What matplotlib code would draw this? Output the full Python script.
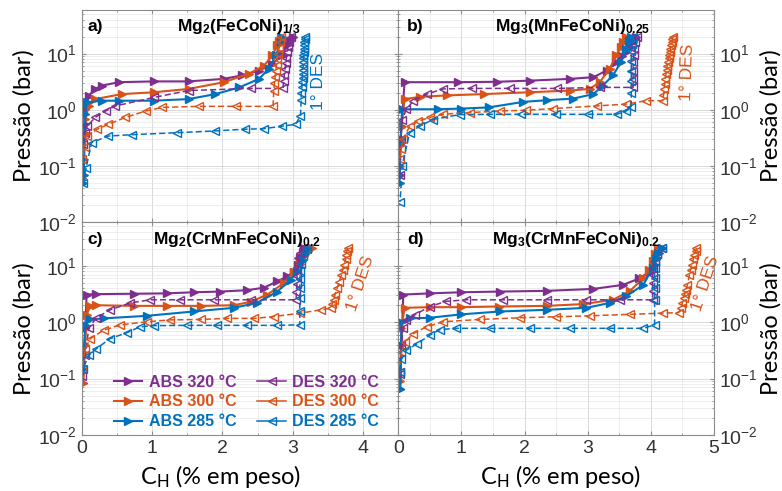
import matplotlib
matplotlib.use("Agg")
import matplotlib.pyplot as plt
from matplotlib.ticker import MultipleLocator, LogLocator, NullFormatter
from matplotlib.lines import Line2D

plt.rcParams['font.family'] = ['Liberation Sans', 'DejaVu Sans']
plt.rcParams['mathtext.fontset'] = 'custom'
plt.rcParams['mathtext.rm'] = 'Liberation Sans'
plt.rcParams['mathtext.bf'] = 'Liberation Sans:bold'
plt.rcParams['mathtext.it'] = 'Liberation Sans:italic'

PURPLE = '#7E2F8E'
ORANGE = '#D95319'
BLUE = '#0072BD'
colors = [PURPLE, ORANGE, BLUE]
temps = ['320', '300', '285']

# ---- panel a: Mg2(FeCoNi)1/3 ----
a_abs320_x = [0.01, 0.02, 0.04, 0.05, 0.10, 0.19, 0.29, 0.53, 1.03, 1.52, 2.02, 2.28, 2.52, 2.71, 2.85, 2.92, 2.96, 3.0]
a_abs320_p = [0.07, 0.29, 0.55, 1.02, 1.78, 2.35, 2.7, 3.1, 3.2, 3.2, 3.55, 4.1, 5.0, 6.6, 9.3, 14, 17, 20]
a_abs300_x = [0.01, 0.02, 0.04, 0.05, 0.10, 0.19, 0.57, 1.03, 1.52, 2.02, 2.38, 2.59, 2.71, 2.78, 2.81, 2.83]
a_abs300_p = [0.06, 0.13, 0.39, 0.68, 1.17, 1.55, 1.9, 2.05, 2.35, 3.1, 4.4, 6.1, 9.3, 14, 17, 20]
a_abs285_x = [0.02, 0.03, 0.05, 0.07, 0.29, 0.53, 1.03, 1.52, 1.90, 2.24, 2.52, 2.66, 2.76, 2.83, 2.85]
a_abs285_p = [0.05, 0.07, 0.83, 1.35, 1.45, 1.45, 1.45, 1.55, 1.9, 2.5, 3.55, 5.4, 9.3, 16, 20]
a_des320_x = [2.97, 2.94, 2.93, 2.92, 2.91, 2.90, 2.89, 2.88, 2.87, 2.86, 2.40, 1.52, 1.03, 0.48, 0.34, 0.19, 0.08, 0.04, 0.02]
a_des320_p = [20, 16, 13, 10.5, 8.5, 6.8, 5.4, 4.2, 3.2, 2.4, 2.4, 2.2, 1.66, 1.17, 0.95, 0.73, 0.51, 0.39, 0.25]
a_des300_x = [2.84, 2.82, 2.80, 2.79, 2.78, 2.77, 2.76, 2.75, 2.74, 2.73, 2.72, 2.19, 1.67, 1.14, 0.91, 0.62, 0.38, 0.22, 0.08, 0.04, 0.01]
a_des300_p = [20, 16, 12.5, 10, 8, 6.3, 5, 3.9, 3.0, 2.2, 1.15, 1.15, 1.15, 1.1, 0.95, 0.73, 0.55, 0.45, 0.34, 0.22, 0.13]
a_des285_x = [3.17, 3.17, 3.16, 3.16, 3.16, 3.16, 3.15, 3.15, 3.15, 3.15, 3.14, 3.14, 3.14, 3.13, 3.13, 3.12, 3.12,
              3.11, 3.04, 2.85, 2.59, 2.32, 1.90, 1.36, 0.72, 0.38, 0.14, 0.06, 0.02]
a_des285_p = [20, 18, 16, 14, 12.3, 10.8, 9.4, 8.2, 7.1, 6.1, 5.2, 4.4, 3.7, 3.1, 2.5, 2.0, 1.5,
              0.78, 0.55, 0.51, 0.46, 0.45, 0.42, 0.39, 0.36, 0.34, 0.26, 0.09, 0.05]

# ---- panel b: Mg3(MnFeCoNi)0.25 ----
b_abs320_x = [0.02, 0.03, 0.05, 0.10, 0.95, 1.56, 2.08, 2.72, 3.09, 3.30, 3.45, 3.55, 3.61, 3.67, 3.72, 3.77]
b_abs320_p = [0.07, 0.25, 0.51, 3.1, 3.1, 3.15, 3.3, 3.55, 3.8, 5.0, 7.1, 9, 10.7, 13, 16, 20]
b_abs300_x = [0.02, 0.05, 0.10, 0.35, 0.77, 1.35, 2.08, 2.72, 3.03, 3.19, 3.35, 3.45, 3.52, 3.56, 3.61]
b_abs300_p = [0.1, 0.5, 1.55, 1.7, 1.8, 1.9, 2.05, 2.2, 2.35, 3.1, 5.4, 9.3, 13, 16, 20]
b_abs285_x = [0.02, 0.04, 0.06, 0.63, 1.0, 1.43, 1.98, 2.35, 2.77, 3.09, 3.24, 3.40, 3.53, 3.61, 3.66, 3.69]
b_abs285_p = [0.05, 0.3, 1.02, 1.02, 1.05, 1.1, 1.38, 1.48, 1.58, 1.9, 2.7, 4.1, 7.1, 12, 17, 20]
b_des320_x = [3.78, 3.75, 3.74, 3.73, 3.72, 3.72, 3.72, 3.72, 3.20, 2.51, 1.77, 1.16, 0.71, 0.45, 0.24, 0.13, 0.06, 0.04, 0.02]
b_des320_p = [20, 16, 12, 9.5, 7, 5, 3.5, 2.5, 2.5, 2.4, 2.4, 2.4, 2.35, 1.9, 1.45, 1.02, 0.67, 0.3, 0.07]
b_des300_x = [4.35, 4.34, 4.33, 4.32, 4.31, 4.30, 4.29, 4.28, 4.27, 4.26, 4.25, 4.24, 4.23, 4.22, 4.21, 4.20, 4.19,
              3.93, 3.61, 3.14, 2.45, 2.03, 1.61, 1.13, 0.71, 0.50, 0.32, 0.18, 0.08, 0.04, 0.02]
b_des300_p = [20, 18, 16, 14, 12.3, 10.8, 9.4, 8.2, 7.1, 6.1, 5.2, 4.4, 3.6, 2.9, 2.3, 1.8, 1.45,
              1.45, 1.26, 1.17, 1.05, 0.98, 0.95, 0.89, 0.83, 0.73, 0.63, 0.51, 0.3, 0.2, 0.13]
b_des285_x = [3.72, 3.70, 3.69, 3.69, 3.69, 3.69, 3.69, 3.69, 3.61, 3.46, 3.00, 2.50, 1.95, 1.45, 0.97, 0.55, 0.34, 0.18, 0.06, 0.03]
b_des285_p = [20, 15, 11, 7.5, 5, 3.2, 2, 1.1, 0.95, 0.83, 0.83, 0.83, 0.83, 0.83, 0.82, 0.67, 0.51, 0.39, 0.1, 0.023]

# ---- panel c: Mg2(CrMnFeCoNi)0.2 ----
c_abs320_x = [0.02, 0.05, 0.07, 0.2, 0.74, 1.21, 1.59, 1.97, 2.35, 2.59, 2.78, 2.92, 3.02, 3.07, 3.11, 3.14, 3.16]
c_abs320_p = [0.085, 0.78, 3.1, 3.15, 3.2, 3.25, 3.4, 3.5, 3.7, 4.1, 5.3, 6.5, 7.9, 10.5, 14, 17, 21]
c_abs300_x = [0.02, 0.05, 0.07, 0.12, 0.21, 0.74, 1.21, 1.69, 2.16, 2.40, 2.64, 2.87, 3.02, 3.10, 3.16, 3.22, 3.28]
c_abs300_p = [0.085, 0.39, 1.35, 1.95, 2.0, 1.95, 1.95, 1.95, 2.0, 2.3, 3.1, 4.9, 7.9, 11, 15, 18, 21]
c_abs285_x = [0.02, 0.05, 0.12, 0.31, 0.93, 1.59, 2.16, 2.49, 2.78, 2.97, 3.06, 3.13, 3.17, 3.20]
c_abs285_p = [0.15, 0.9, 1.12, 1.17, 1.3, 1.55, 1.8, 2.2, 3.5, 5.6, 8, 12, 16, 20]
c_des320_x = [3.14, 3.10, 3.08, 3.07, 3.06, 3.06, 3.06, 3.05, 3.05, 2.4, 1.88, 1.4, 0.97, 0.69, 0.40, 0.21, 0.10, 0.05, 0.01]
c_des320_p = [21, 17, 14, 11, 8.5, 6.5, 4.8, 3.5, 2.5, 2.5, 2.5, 2.5, 2.5, 2.2, 1.65, 1.2, 0.78, 0.26, 0.11]
c_des300_x = [3.78, 3.77, 3.76, 3.75, 3.73, 3.71, 3.69, 3.66, 3.63, 3.60, 3.58, 3.56, 3.54,
              3.40, 3.11, 2.73, 2.45, 2.07, 1.69, 1.26, 0.93, 0.55, 0.31, 0.12, 0.05, 0.01]
c_des300_p = [21, 18, 15.5, 13, 10.5, 8.5, 6.8, 5.2, 4.0, 3.1, 2.5, 2.1, 1.78,
              1.66, 1.45, 1.26, 1.17, 1.17, 1.12, 1.1, 1.02, 0.9, 0.72, 0.51, 0.34, 0.15]
c_des285_x = [3.20, 3.15, 3.12, 3.11, 3.10, 3.10, 3.10, 3.10, 3.10, 2.78, 2.35, 1.93, 1.50, 1.03, 0.83, 0.64, 0.40, 0.21, 0.10, 0.02]
c_des285_p = [20, 15, 11, 8, 5.8, 4.0, 2.7, 1.6, 0.9, 0.88, 0.88, 0.88, 0.88, 0.87, 0.83, 0.65, 0.51, 0.34, 0.26, 0.15]

# ---- panel d: Mg3(CrMnFeCoNi)0.2 ----
d_abs320_x = [0.03, 0.05, 0.08, 0.5, 1.0, 1.61, 2.35, 3.09, 3.56, 3.82, 3.98, 4.05, 4.09, 4.13, 4.17]
d_abs320_p = [0.065, 0.39, 3.1, 3.25, 3.4, 3.5, 3.6, 3.9, 4.6, 6.0, 7.9, 10.5, 14, 17, 21]
d_abs300_x = [0.03, 0.05, 0.10, 0.5, 1.0, 1.6, 2.35, 2.93, 3.40, 3.67, 3.88, 3.97, 4.03, 4.07, 4.11]
d_abs300_p = [0.09, 0.78, 1.8, 1.85, 1.85, 1.9, 1.95, 2.1, 2.5, 3.6, 6.0, 8.5, 12, 16, 21]
d_abs285_x = [0.03, 0.05, 0.18, 0.5, 1.0, 1.61, 2.35, 2.98, 3.35, 3.61, 3.88, 4.03, 4.08, 4.11, 4.17]
d_abs285_p = [0.065, 1.02, 1.17, 1.2, 1.38, 1.55, 1.66, 1.8, 2.2, 2.9, 4.6, 9.2, 13, 17, 21]
d_des320_x = [4.17, 4.10, 4.06, 4.04, 4.03, 4.03, 4.03, 4.03, 3.51, 2.98, 2.35, 1.66, 1.08, 0.76, 0.50, 0.26, 0.13, 0.08, 0.05, 0.03]
d_des320_p = [21, 16, 12, 9, 6.8, 5, 3.6, 2.5, 2.5, 2.5, 2.5, 2.5, 2.5, 2.35, 1.9, 1.35, 1.1, 0.78, 0.39, 0.12]
d_des300_x = [4.72, 4.71, 4.69, 4.67, 4.65, 4.63, 4.61, 4.58, 4.56, 4.54, 4.52, 4.50, 4.48,
              4.44, 4.19, 3.67, 3.03, 2.50, 1.93, 1.29, 0.71, 0.45, 0.24, 0.11, 0.05, 0.03]
d_des300_p = [21, 18, 15.5, 13, 10.5, 8.5, 6.8, 4.6, 3.8, 3.2, 2.7, 2.2, 1.78,
              1.48, 1.45, 1.38, 1.3, 1.25, 1.2, 1.12, 1.02, 0.83, 0.63, 0.45, 0.3, 0.13]
d_des285_x = [4.17, 4.10, 4.07, 4.06, 4.06, 4.06, 4.06, 4.06, 3.88, 3.35, 2.72, 2.09, 1.45, 0.92, 0.66, 0.50, 0.29, 0.13, 0.05, 0.02]
d_des285_p = [21, 16, 12, 9, 6, 4, 2.5, 0.9, 0.78, 0.78, 0.78, 0.78, 0.78, 0.78, 0.74, 0.59, 0.41, 0.32, 0.22, 0.13]

panels = [
    dict(letter='a)', title=r'$\mathbf{Mg_2(FeCoNi)_{1/3}}$', title_x=0.495, xmax=4.5,
         pos=[0.1045, 0.5479, 0.4048, 0.4318], side='left', bottom=False,
         abs=[(a_abs320_x, a_abs320_p), (a_abs300_x, a_abs300_p), (a_abs285_x, a_abs285_p)],
         des=[(a_des320_x, a_des320_p), (a_des300_x, a_des300_p), (a_des285_x, a_des285_p)],
         first=(3.37, 3.2, 90, BLUE)),
    dict(letter='b)', title=r'$\mathbf{Mg_3(MnFeCoNi)_{0.25}}$', title_x=0.553, xmax=5,
         pos=[0.5093, 0.5479, 0.4037, 0.4318], side='right', bottom=False,
         abs=[(b_abs320_x, b_abs320_p), (b_abs300_x, b_abs300_p), (b_abs285_x, b_abs285_p)],
         des=[(b_des320_x, b_des320_p), (b_des300_x, b_des300_p), (b_des285_x, b_des285_p)],
         first=(4.58, 4.6, 88, ORANGE)),
    dict(letter='c)', title=r'$\mathbf{Mg_2(CrMnFeCoNi)_{0.2}}$', title_x=0.49, xmax=4.5,
         pos=[0.1045, 0.1141, 0.4048, 0.4338], side='left', bottom=True,
         abs=[(c_abs320_x, c_abs320_p), (c_abs300_x, c_abs300_p), (c_abs285_x, c_abs285_p)],
         des=[(c_des320_x, c_des320_p), (c_des300_x, c_des300_p), (c_des285_x, c_des285_p)],
         first=(3.96, 4.9, 72, ORANGE)),
    dict(letter='d)', title=r'$\mathbf{Mg_3(CrMnFeCoNi)_{0.2}}$', title_x=0.563, xmax=5,
         pos=[0.5093, 0.1141, 0.4037, 0.4338], side='right', bottom=True,
         abs=[(d_abs320_x, d_abs320_p), (d_abs300_x, d_abs300_p), (d_abs285_x, d_abs285_p)],
         des=[(d_des320_x, d_des320_p), (d_des300_x, d_des300_p), (d_des285_x, d_des285_p)],
         first=(4.86, 4.8, 72, ORANGE)),
]

fig = plt.figure(figsize=(7.82, 4.91), dpi=100)
label_font = dict(family=['Lato', 'DejaVu Sans'], size=17, color='black')

for pnl in panels:
    ax = fig.add_axes(pnl['pos'])
    ax.set_yscale('log')
    ax.set_xlim(0, pnl['xmax'])
    ax.set_ylim(0.01, 60)

    for (x, p), c, t in zip(pnl['abs'], colors, temps):
        ax.plot(x, p, '-', color=c, lw=1.5, marker='>', ms=5.5, mfc=c, mec=c)
    for (x, p), c, t in zip(pnl['des'], colors, temps):
        ax.plot(x, p, '--', color=c, lw=1.1, dashes=(4, 2), marker='<', ms=5.5,
                mfc='none', mec=c, mew=1.0)

    fx, fy, rot, fc = pnl['first']
    ax.text(fx, fy, '1° DES', color=fc, fontsize=12.5, rotation=rot, ha='center', va='center')

    ax.text(0.017 if pnl['side'] == 'left' else 0.028, 0.92, pnl['letter'],
            transform=ax.transAxes, fontsize=12.5, fontweight='bold', va='center')
    ax.text(pnl['title_x'], 0.92, pnl['title'], transform=ax.transAxes,
            fontsize=12.5, ha='center', va='center')

    ax.xaxis.set_major_locator(MultipleLocator(1))
    ax.xaxis.set_minor_locator(MultipleLocator(0.5))
    ax.yaxis.set_major_locator(LogLocator(base=10, numticks=10))
    ax.yaxis.set_minor_locator(LogLocator(base=10, subs=range(2, 10), numticks=20))
    ax.yaxis.set_minor_formatter(NullFormatter())
    ax.grid(True, which='major', color='#d4d4d4', lw=0.6)
    ax.grid(True, which='minor', color='#e8e8e8', lw=0.5)
    ax.set_axisbelow(True)

    for s in ax.spines.values():
        s.set_color('#8c8c8c')
        s.set_linewidth(0.8)
    ax.tick_params(which='both', direction='in', colors='#8c8c8c', labelcolor='#333333',
                   labelsize=14, top=True, right=True, left=True, bottom=True)
    ax.tick_params(which='major', length=3)
    ax.tick_params(which='minor', length=1.5)

    if pnl['side'] == 'left':
        ax.tick_params(labelleft=True, labelright=False)
        ax.set_ylabel('Pressão (bar)', **label_font)
        ax.yaxis.set_label_coords(-0.148, 0.5)
    else:
        ax.tick_params(labelleft=False, labelright=True)
        ax.yaxis.set_label_position('right')
        ax.set_ylabel('Pressão (bar)', **label_font)
        ax.yaxis.set_label_coords(1.145, 0.5)

    if pnl['bottom']:
        ax.set_xlabel(r'C$_\mathregular{H}$ (% em peso)', **label_font)
        ax.xaxis.set_label_coords(0.44 if pnl['side'] == 'left' else 0.515, -0.13)
    else:
        ax.tick_params(labelbottom=False)

    if pnl['letter'] == 'c)':
        handles = [Line2D([], [], color=c, lw=1.5, marker='>', ms=5.5, mfc=c, mec=c) for c in colors]
        handles += [Line2D([], [], color=c, lw=1.1, marker='<', ms=5.5, mfc='none', mec=c) for c in colors]
        labels = ['ABS ' + t + ' °C' for t in temps] + ['DES ' + t + ' °C' for t in temps]
        ax.legend(handles, labels, ncol=2, frameon=False, loc='lower right',
                  bbox_to_anchor=(0.985, -0.04), prop=dict(weight='bold', size=11.5),
                  labelcolor='linecolor', handlelength=1.8, handletextpad=0.4,
                  columnspacing=1.3, labelspacing=0.3)

fig.savefig('out.png', dpi=100)
